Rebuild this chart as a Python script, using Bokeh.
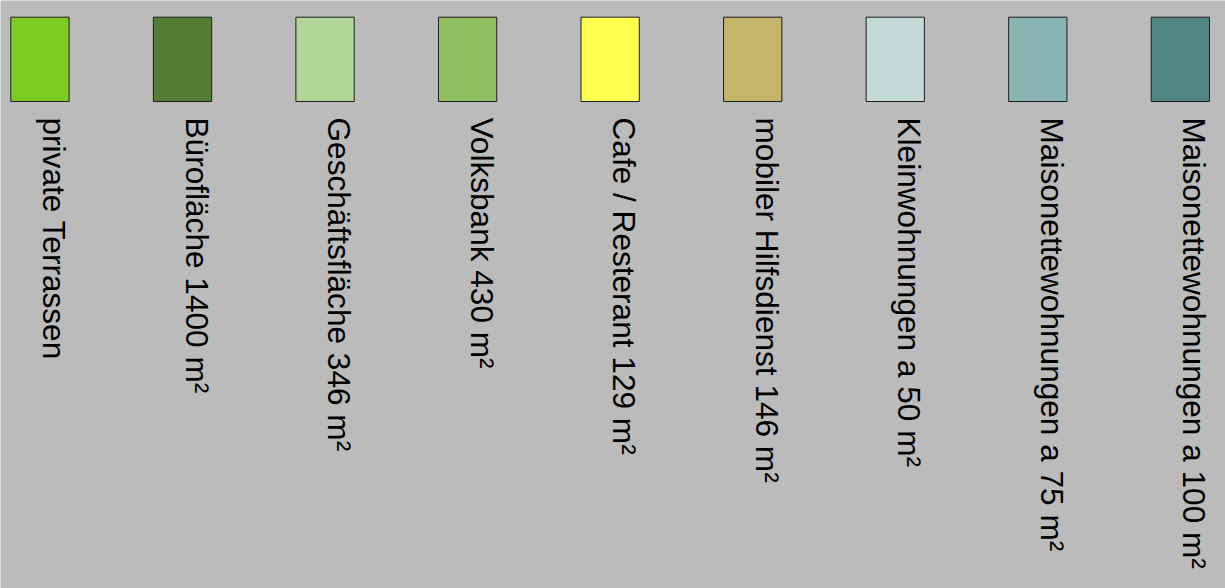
import numpy as np
from bokeh.plotting import figure
from bokeh.models import Range1d, ColumnDataSource
from bokeh.core.properties import value
from bokeh.embed import file_html
from bokeh.resources import INLINE

# legend entries
labels = [
    "private Terrassen",
    "Bürofläche 1400 m²",
    "Geschäftsfläche 346 m²",
    "Volksbank 430 m²",
    "Cafe / Resterant 129 m²",
    "mobiler Hilfsdienst 146 m²",
    "Kleinwohnungen a 50 m²",
    "Maisonettewohnungen a 75 m²",
    "Maisonettewohnungen a 100 m²",
]
colors = [
    "#7dcc23",
    "#557c33",
    "#b3d597",
    "#8fbd60",
    "#ffff4f",
    "#c4b56a",
    "#c3dad6",
    "#88b5b3",
    "#508581",
]

BG = "#bbbbbb"
W, H = 1225, 588

p = figure(width=W, height=H, output_backend="svg", toolbar_location=None,
           x_range=Range1d(0, W), y_range=Range1d(H, 0),
           min_border=0, background_fill_color=BG, border_fill_color=BG)
p.axis.visible = False
p.grid.visible = False
p.outline_line_color = None

idx = np.arange(len(labels))
left = 10.3 + idx * 142.55
sw_w, sw_top, sw_bot = 58.3, 16.7, 101.0

src = ColumnDataSource(dict(
    left=left, right=left + sw_w,
    tx=left + sw_w / 2 + 14.0,
    label=labels, color=colors,
))

p.quad(left="left", right="right", top=sw_top, bottom=sw_bot, source=src,
       fill_color="color", line_color="#1e1e1e", line_width=1)

p.text(x="tx", y=117.0, text="label", source=src, angle=-np.pi / 2,
       text_align="left", text_baseline="middle",
       text_font=value("Liberation Sans"), text_font_size="31.6px",
       text_color="#000000")

html = file_html(p, INLINE)
html = html.replace("<body>", '<body style="margin:0;background:#bbbbbb;overflow:hidden">', 1)
open("out.html", "w").write(html)
